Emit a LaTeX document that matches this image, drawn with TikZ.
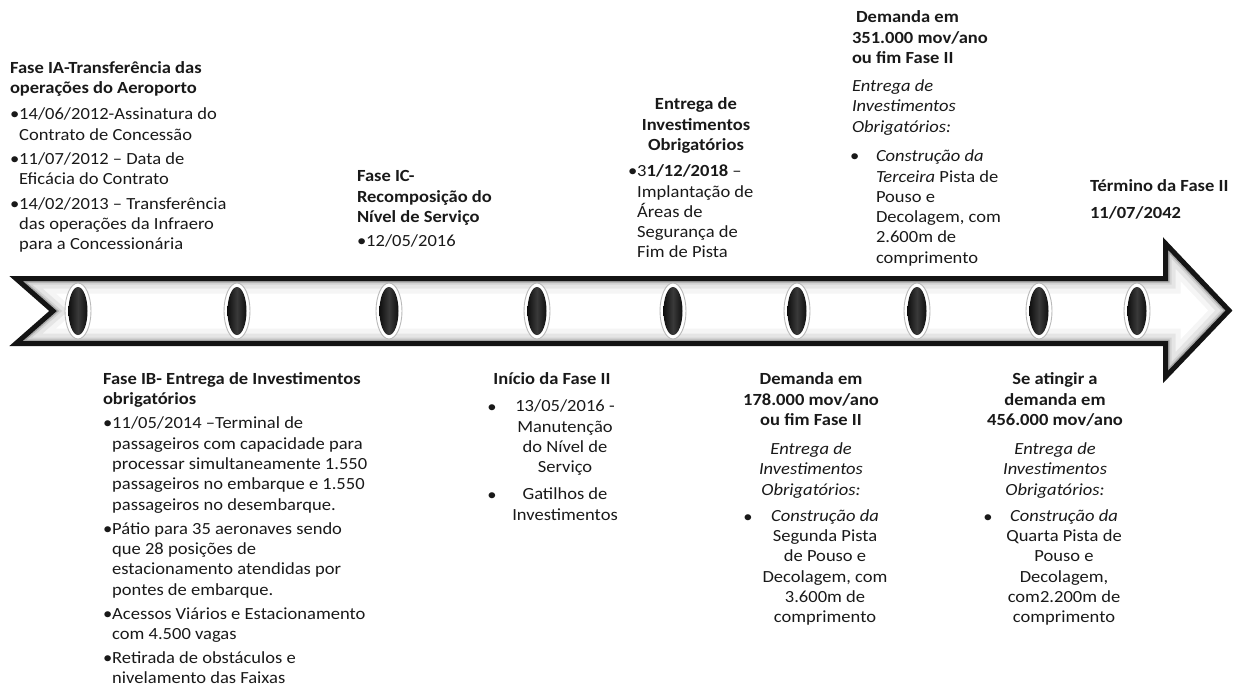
\documentclass[tikz,border=0pt]{standalone}
\usepackage{fontspec}
\setmainfont{Carlito}[FakeStretch=1.09]
\usetikzlibrary{shapes.geometric}
\begin{document}
\begin{tikzpicture}[x=1pt,y=-1pt,
  txt/.style={inner sep=0pt, outer sep=0pt, text=black!90, font=\fontsize{17}{20.3}\selectfont},
  lt/.style={txt, anchor=north west, align=left},
  ct/.style={txt, anchor=north, align=center},
  bul/.style={txt, anchor=base},
  marker/.style={ellipse, draw=gray!55, line width=0.9pt, fill=white,
    minimum width=26pt, minimum height=56pt, inner sep=0pt,
    path picture={\shade[left color=black, right color=black, middle color=gray!45!black]
      (path picture bounding box.center) ellipse [x radius=9.5pt, y radius=24pt];}}]
\useasboundingbox (0,0) rectangle (1237,686);

% arrow outline points
\coordinate (a1) at (16,278.5);
\coordinate (a2) at (1165.5,278.5);
\coordinate (a3) at (1165.5,243.5);
\coordinate (a4) at (1229,310.5);
\coordinate (a5) at (1165.5,377);
\coordinate (a6) at (1165.5,343.5);
\coordinate (a7) at (16,343.5);
\coordinate (a8) at (53,311);

\fill[white] (a1)--(a2)--(a3)--(a4)--(a5)--(a6)--(a7)--(a8)--cycle;
\begin{scope}
  \clip (a1)--(a2)--(a3)--(a4)--(a5)--(a6)--(a7)--(a8)--cycle;
  \draw[gray, opacity=0.08, line width=30pt, line join=miter] (a1)--(a2)--(a3)--(a4)--(a5)--(a6)--(a7)--(a8)--cycle;
  \draw[gray, opacity=0.13, line width=20pt, line join=miter] (a1)--(a2)--(a3)--(a4)--(a5)--(a6)--(a7)--(a8)--cycle;
  \draw[gray, opacity=0.18, line width=12pt, line join=miter] (a1)--(a2)--(a3)--(a4)--(a5)--(a6)--(a7)--(a8)--cycle;
  \draw[gray!70!black, opacity=0.35, line width=8pt, line join=miter] (a1)--(a2)--(a3)--(a4)--(a5)--(a6)--(a7)--(a8)--cycle;
\end{scope}
\draw[black!92, line width=5pt, line join=miter] (a1)--(a2)--(a3)--(a4)--(a5)--(a6)--(a7)--(a8)--cycle;

% markers
\node[marker] (m1) at (78,311) {};
\node[marker] (m2) at (237,311) {};
\node[marker] (m3) at (389,311) {};
\node[marker] (m4) at (537,311) {};
\node[marker] (m5) at (673,311) {};
\node[marker] (m6) at (797,311) {};
\node[marker] (m7) at (917,311) {};
\node[marker] (m8) at (1039,311) {};
\node[marker] (m9) at (1137,311) {};

% top texts
\node[lt] (ia) at (10,59) {\strut\textbf{Fase IA-Transferência das}\\
  \textbf{operações do Aeroporto}\\[6pt]
  •14/06/2012-Assinatura do\\
  \hphantom{•}Contrato de Concessão\\[4pt]
  •11/07/2012 – Data de\\
  \hphantom{•}Eficácia do Contrato\\[4pt]
  •14/02/2013 – Transferência\\
  \hphantom{•}das operações da Infraero\\
  \hphantom{•}para a Concessionária};

\node[lt] (ic) at (357,167.5) {\strut\textbf{Fase IC-}\\
  \textbf{Recomposição do}\\
  \textbf{Nível de Serviço}\\[4pt]
  •12/05/2016};

\node[ct] (ent) at (696,95.5) {\strut\textbf{Entrega de}\\
  \textbf{Investimentos}\\
  \textbf{Obrigatórios}};
\node[lt] (entb) at (628,162.5) {\strut•3\textbf{1/12/2018} –\\
  \hphantom{•}Implantação de\\
  \hphantom{•}Áreas de\\
  \hphantom{•}Segurança de\\
  \hphantom{•}Fim de Pista};

\node[lt] (d351) at (852,8.5) {\strut\hspace*{4pt}\textbf{Demanda em}\\
  \textbf{351.000 mov/ano}\\
  \textbf{ou fim Fase II}\\[8pt]
  \textit{Entrega de}\\
  \textit{Investimentos}\\
  \textit{Obrigatórios:}};
\node[lt] (d351b) at (850,147.5) {\strut\makebox[26pt][l]{•}\textit{Construção da}\\
  \hspace*{26pt}\textit{Terceira} Pista de\\
  \hspace*{26pt}Pouso e\\
  \hspace*{26pt}Decolagem, com\\
  \hspace*{26pt}2.600m de\\
  \hspace*{26pt}comprimento};

\node[lt] (term) at (1090,177.5) {\strut\textbf{Término da Fase II}\\[6pt]
  \textbf{11/07/2042}};

% bottom texts
\node[lt] (ib) at (103,370) {\strut\textbf{Fase IB- Entrega de Investimentos}\\
  \textbf{obrigatórios}\\[4pt]
  •11/05/2014 –Terminal de\\
  \hphantom{•}passageiros com capacidade para\\
  \hphantom{•}processar simultaneamente 1.550\\
  \hphantom{•}passageiros no embarque e 1.550\\
  \hphantom{•}passageiros no desembarque.\\[4pt]
  •Pátio para 35 aeronaves sendo\\
  \hphantom{•}que 28 posições de\\
  \hphantom{•}estacionamento atendidas por\\
  \hphantom{•}pontes de embarque.\\[4pt]
  •Acessos Viários e Estacionamento\\
  \hphantom{•}com 4.500 vagas\\[3pt]
  •Retirada de obstáculos e\\
  \hphantom{•}nivelamento das Faixas};

\node[ct] (ini) at (552,370.5) {\strut\textbf{Início da Fase II}};
\node[bul] (inib1) at (492,412) {•};
\node[ct] (init1) at (565,397.5) {\strut 13/05/2016 -\\ Manutenção\\ do Nível de\\ Serviço};
\node[bul] (inib2) at (492,500) {•};
\node[ct] (init2) at (565,485.5) {\strut Gatilhos de\\ Investimentos};

\node[ct] (d178) at (811,370.5) {\strut\textbf{Demanda em}\\
  \textbf{178.000 mov/ano}\\
  \textbf{ou fim Fase II}\\[9pt]
  \textit{Entrega de}\\
  \textit{Investimentos}\\
  \textit{Obrigatórios:}};
\node[bul] (d178b) at (748,522) {•};
\node[ct] (d178t) at (825,507) {\strut\textit{Construção da}\\ Segunda Pista\\ de Pouso e\\ Decolagem, com\\ 3.600m de\\ comprimento};

\node[ct] (d456) at (1055,370.5) {\strut\textbf{Se atingir a}\\
  \textbf{demanda em}\\
  \textbf{456.000 mov/ano}\\[9pt]
  \textit{Entrega de}\\
  \textit{Investimentos}\\
  \textit{Obrigatórios:}};
\node[bul] (d456b) at (988,522) {•};
\node[ct] (d456t) at (1064,507) {\strut\textit{Construção da}\\ Quarta Pista de\\ Pouso e\\ Decolagem,\\ com2.200m de\\ comprimento};
\end{tikzpicture}
\end{document}
